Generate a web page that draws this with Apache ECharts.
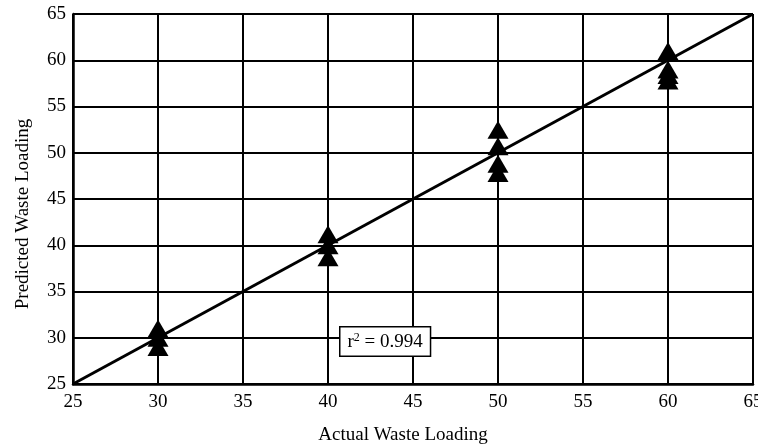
<!DOCTYPE html>
<html>
<head>
<meta charset="utf-8">
<script src="https://cdn.jsdelivr.net/npm/echarts@6/dist/echarts.min.js"></script>
<style>html,body{margin:0;padding:0;background:#fff}#c{width:758px;height:446px}</style>
</head>
<body>
<div id="c"></div>
<script>
var actual = [30, 30, 30, 40, 40, 40, 50, 50, 50, 50, 60, 60, 60, 60];
var predicted = [31, 30, 29, 41.2, 40, 38.7, 52.5, 50.7, 48.8, 47.8, 61, 59, 58.4, 57.8];
var fitLine = [[25, 25], [65, 65]];
var axisTicks = [25, 30, 35, 40, 45, 50, 55, 60, 65];
var r2Label = 'r{s|2} = 0.994';

var font = 'Liberation Serif';
var chart = echarts.init(document.getElementById('c'));
var pts = actual.map(function (a, i) { return [a, predicted[i]]; });
chart.setOption({
  animation: false,
  backgroundColor: '#fff',
  grid: { left: 73, right: 5, top: 14, bottom: 62, containLabel: false, outerBoundsMode: 'none' },
  xAxis: {
    type: 'value', min: axisTicks[0], max: axisTicks[axisTicks.length - 1], interval: 5,
    name: 'Actual Waste Loading', nameLocation: 'middle', nameGap: 42,
    nameTextStyle: { fontFamily: font, fontSize: 19, color: '#000', padding: [0, 20, 0, 0] },
    axisLine: { show: true, lineStyle: { color: '#000', width: 2.5 } },
    axisTick: { show: false },
    axisLabel: { fontFamily: font, fontSize: 19, color: '#000', margin: 9 },
    splitLine: { show: true, lineStyle: { color: '#000', width: 2 } }
  },
  yAxis: {
    type: 'value', min: axisTicks[0], max: axisTicks[axisTicks.length - 1], interval: 5,
    name: 'Predicted Waste Loading', nameLocation: 'middle', nameGap: 40,
    nameTextStyle: { fontFamily: font, fontSize: 19, color: '#000', padding: [0, 30, 0, 0] },
    axisLine: { show: true, lineStyle: { color: '#000', width: 2.5 } },
    axisTick: { show: false },
    axisLabel: { fontFamily: font, fontSize: 19, color: '#000', margin: 7 },
    splitLine: { show: true, lineStyle: { color: '#000', width: 2 } }
  },
  series: [
    {
      type: 'line', data: fitLine, showSymbol: false, symbol: 'none',
      lineStyle: { color: '#000', width: 3 }, z: 3
    },
    {
      type: 'scatter', data: pts, symbol: 'triangle', symbolSize: [21, 18],
      itemStyle: { color: '#000', opacity: 1 }, z: 4
    }
  ],
  graphic: [{
    type: 'text', left: 339, top: 326, z: 10,
    style: {
      text: r2Label, fontFamily: font, fontSize: 19, fill: '#000',
      backgroundColor: '#fff', borderColor: '#000', borderWidth: 1.5,
      padding: [4, 7, 3, 7],
      rich: { s: { fontFamily: font, fontSize: 12, verticalAlign: 'top', padding: [0, 0, 9, 0], fill: '#000' } }
    }
  }]
});
</script>
</body>
</html>
